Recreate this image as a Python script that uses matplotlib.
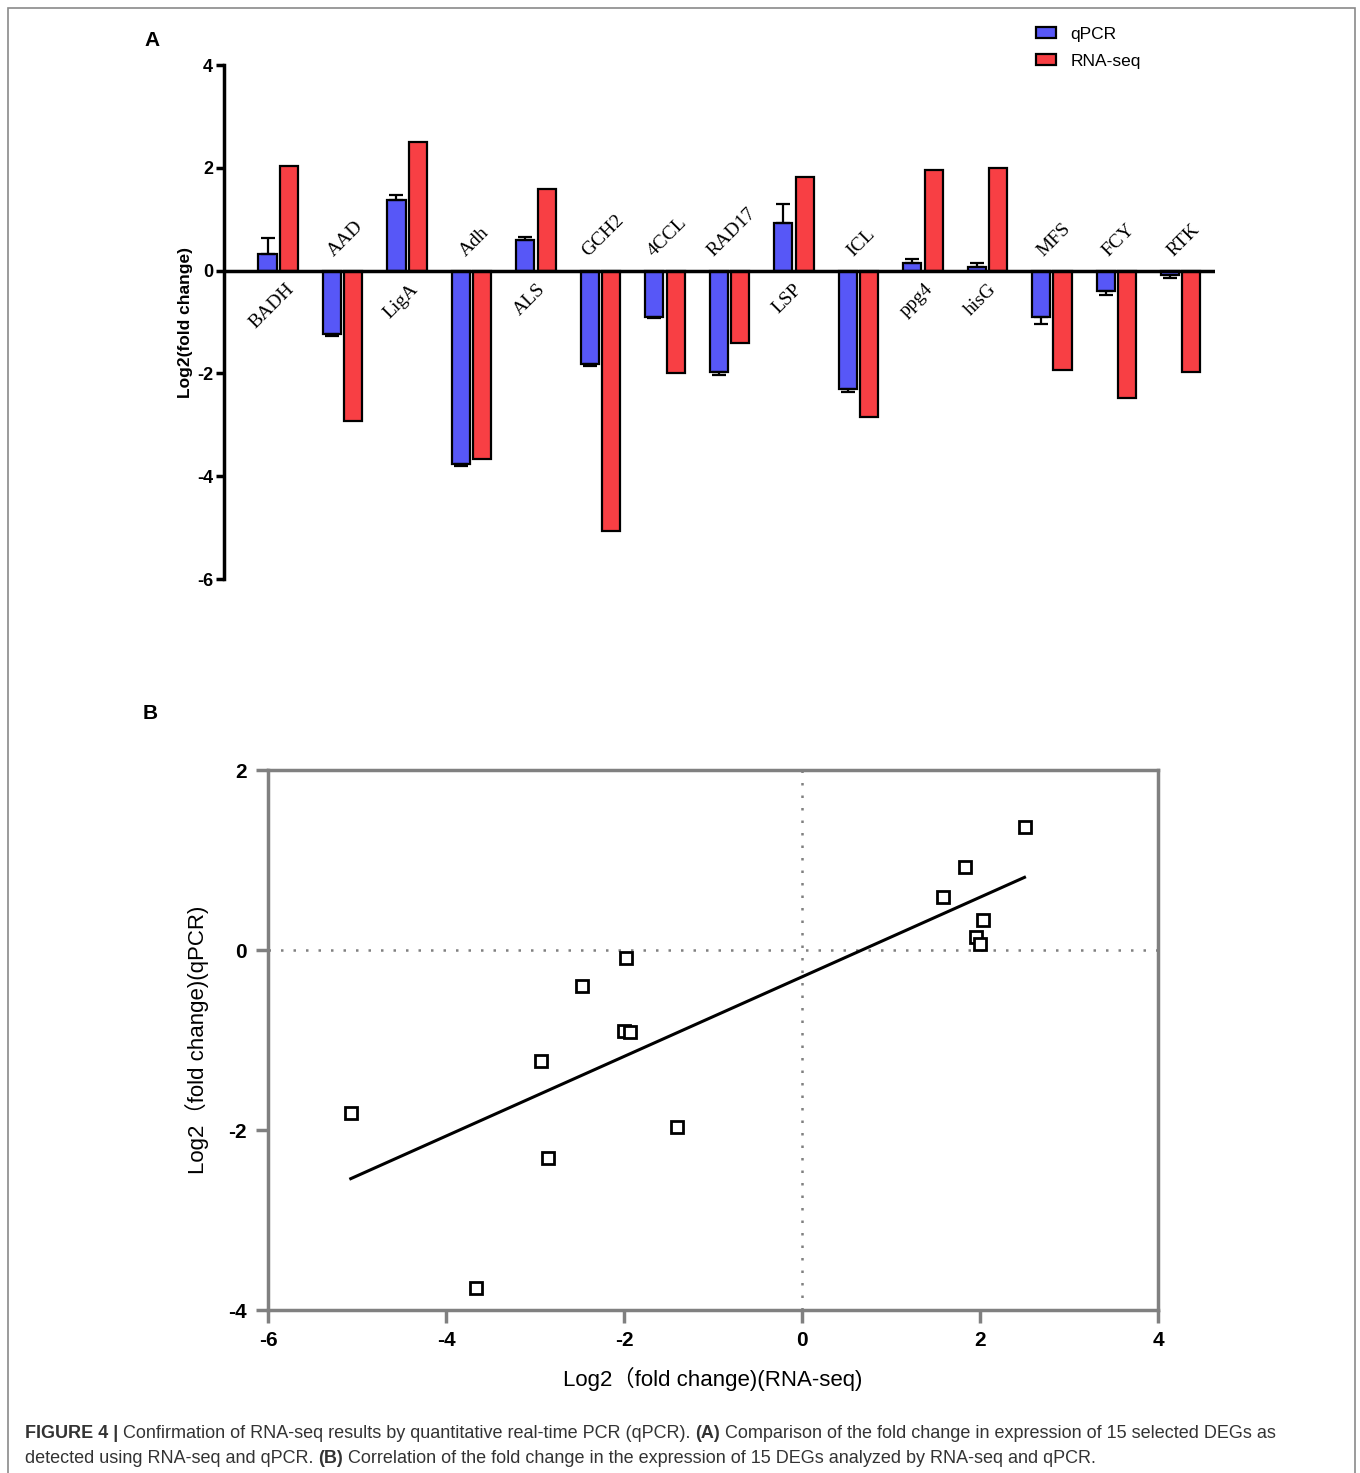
import numpy as np
import matplotlib.pyplot as plt
from matplotlib.patches import Rectangle, Patch

plt.rcParams['axes.unicode_minus'] = False

# data
genes = ['BADH', 'AAD', 'LigA', 'Adh', 'ALS', 'GCH2', '4CCL', 'RAD17',
         'LSP', 'ICL', 'ppg4', 'hisG', 'MFS', 'FCY', 'RTK']
qpcr = [0.33, -1.23, 1.37, -3.76, 0.59, -1.81, -0.90, -1.97,
        0.92, -2.31, 0.14, 0.07, -0.91, -0.40, -0.09]
qpcr_err = [0.30, 0.04, 0.10, 0.05, 0.07, 0.04, 0.03, 0.07,
            0.38, 0.06, 0.08, 0.08, 0.12, 0.07, 0.06]
rnaseq = [2.03, -2.93, 2.50, -3.66, 1.58, -5.07, -2.00, -1.41,
          1.83, -2.85, 1.96, 2.00, -1.93, -2.47, -1.98]

blue = '#5757F7'
red = '#F83F44'
narrow = ['Liberation Sans Narrow', 'Liberation Sans', 'DejaVu Sans']
sans = ['Liberation Sans', 'Noto Sans CJK SC', 'DejaVu Sans']
serif = ['Liberation Serif', 'DejaVu Serif']

fig = plt.figure(figsize=(13.6, 14.73), dpi=100)

# frame around the whole figure
fig.patches.append(Rectangle((8/1360, -0.05), 1347/1360, 1 - 8/1473 + 0.05,
                             transform=fig.transFigure, fill=False,
                             edgecolor='#8a8a8a', linewidth=1.2))

# ---------------- panel A ----------------
axA = fig.add_axes([224/1360, 1 - 579/1473, 991/1360, 514/1473])
x = np.arange(len(genes))
w = 0.28
off = 0.165
q = np.array(qpcr)
r = np.array(rnaseq)
e = np.array(qpcr_err)
lower = np.where(q < 0, e, 0)
upper = np.where(q >= 0, e, 0)
axA.bar(x - off, q, w, color=blue, edgecolor='black', linewidth=1.6,
        yerr=[lower, upper], error_kw=dict(ecolor='black', elinewidth=1.6,
                                           capsize=5, capthick=1.6),
        label='qPCR', zorder=2)
axA.bar(x + off, r, w, color=red, edgecolor='black', linewidth=1.6,
        label='RNA-seq', zorder=2)
axA.axhline(0, color='black', lw=2.5, zorder=3)
axA.set_xlim(-0.84, 14.53)
axA.set_ylim(-6, 4)
axA.set_yticks([-6, -4, -2, 0, 2, 4])
axA.set_xticks([])
for s in ['top', 'right', 'bottom']:
    axA.spines[s].set_visible(False)
axA.spines['left'].set_linewidth(2.5)
axA.tick_params(axis='y', direction='out', length=6, width=2.5, pad=2)
for lab in axA.get_yticklabels():
    lab.set_family(narrow)
    lab.set_fontweight('bold')
    lab.set_fontsize(13)
axA.set_ylabel('Log2(fold change)', fontsize=12.5, fontweight='bold',
               family=sans, labelpad=3)

for i, g in enumerate(genes):
    if q[i] >= 0:
        axA.text(i - 0.1, -0.2, g, rotation=45, ha='center', va='top',
                 fontsize=14, family=serif)
    else:
        axA.text(i + 0.04, 0.2, g, rotation=45, ha='center', va='bottom',
                 fontsize=14, family=serif)

handles = [Patch(facecolor=blue, edgecolor='black', linewidth=1.6),
           Patch(facecolor=red, edgecolor='black', linewidth=1.6)]
fig.legend(handles, ['qPCR', 'RNA-seq'], loc='upper left',
           bbox_to_anchor=(1020/1360, 1 - 11/1473), frameon=False,
           prop={'family': sans, 'size': 12.5}, handlelength=1.2,
           handleheight=0.6, labelspacing=0.7, handletextpad=0.8)

fig.text(152/1360, 1 - 40/1473, 'A', fontsize=15, fontweight='bold',
         family=sans, ha='center', va='center')
fig.text(150/1360, 1 - 714/1473, 'B', fontsize=15, fontweight='bold',
         family=sans, ha='center', va='center')

# ---------------- panel B ----------------
axB = fig.add_axes([268/1360, 1 - 1310/1473, 890/1360, 540/1473])
gray = '#808080'
axB.axhline(0, color=gray, lw=1.8, ls=(0, (1, 4)), zorder=1)
axB.axvline(0, color=gray, lw=1.8, ls=(0, (1, 4)), zorder=1)
axB.plot(rnaseq, qpcr, 's', markersize=9, markerfacecolor='white',
         markeredgecolor='black', markeredgewidth=2.0, zorder=3)
slope, icpt = np.polyfit(r, q, 1)
xs = np.array([r.min(), r.max()])
axB.plot(xs, slope * xs + icpt, color='black', lw=2.2, zorder=2)
axB.set_xlim(-6, 4)
axB.set_ylim(-4, 2)
axB.set_xticks([-6, -4, -2, 0, 2, 4])
axB.set_yticks([-4, -2, 0, 2])
for s in axB.spines.values():
    s.set_color(gray)
    s.set_linewidth(2.5)
axB.tick_params(direction='out', length=9, width=2.5, color=gray, pad=6)
for lab in axB.get_xticklabels() + axB.get_yticklabels():
    lab.set_family(narrow)
    lab.set_fontweight('bold')
    lab.set_fontsize(15)
axB.set_xlabel('Log2（fold change)(RNA-seq)', fontsize=16, family=sans,
               labelpad=12)
axB.set_ylabel('Log2（fold change)(qPCR)', fontsize=16, family=sans,
               labelpad=14)

# ---------------- caption ----------------
def rich_line(y, parts, x0=25/1360, size=13):
    fig.canvas.draw()
    rend = fig.canvas.get_renderer()
    xpos = x0
    for txt, bold, col in parts:
        t = fig.text(xpos, y, txt, fontsize=size, family=narrow,
                     fontweight='bold' if bold else 'normal', color=col,
                     va='baseline', ha='left')
        bb = t.get_window_extent(renderer=rend)
        xpos += bb.width / fig.bbox.width

cap = '#333333'
rich_line(1 - 1438/1473, [
    ('FIGURE 4 | ', True, cap),
    ('Confirmation of RNA-seq results by quantitative real-time PCR (qPCR). ', False, cap),
    ('(A)', True, cap),
    (' Comparison of the fold change in expression of 15 selected DEGs as', False, cap)])
rich_line(1 - 1463/1473, [
    ('detected using RNA-seq and qPCR. ', False, cap),
    ('(B)', True, cap),
    (' Correlation of the fold change in the expression of 15 DEGs analyzed by RNA-seq and qPCR.', False, cap)])

fig.savefig('out.png', dpi=100)
